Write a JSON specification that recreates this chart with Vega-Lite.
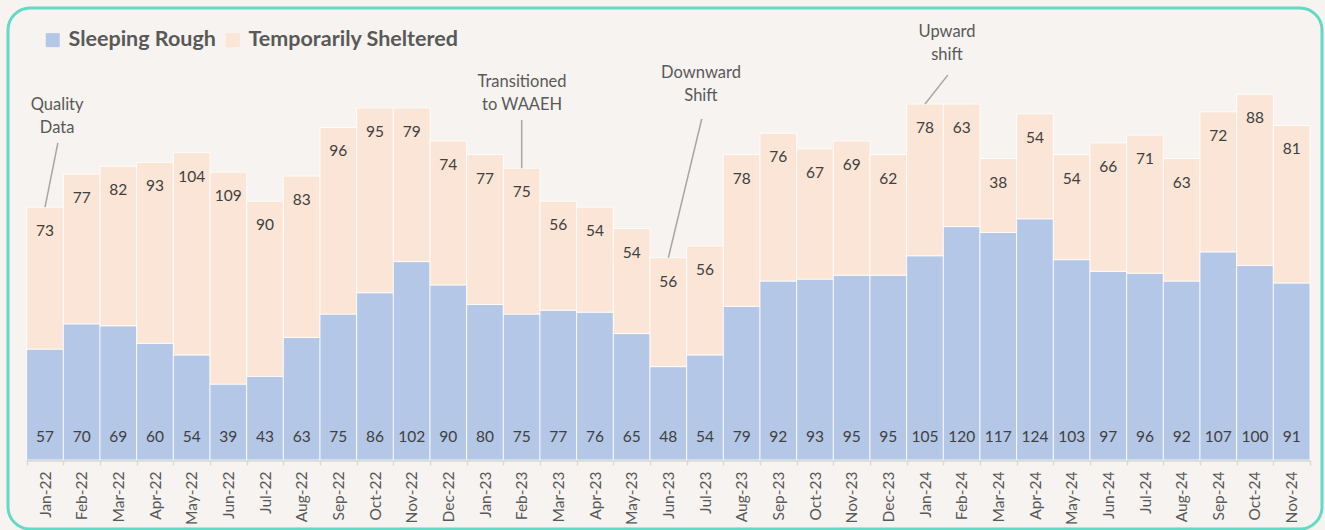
{
  "$schema": "https://vega.github.io/schema/vega-lite/v6.json",
  "width": 1314,
  "height": 521,
  "autosize": {"type": "none"},
  "padding": {"left": 8, "top": 8, "right": 3, "bottom": 1},
  "background": "#F6F3F0",
  "config": {
    "view": {"stroke": "#62DAC5", "strokeWidth": 3, "cornerRadius": 22, "fill": "#F6F3F0"},
    "font": "Lato",
    "legend": {
      "orient": "none",
      "legendX": 34,
      "legendY": 21,
      "direction": "horizontal",
      "padding": 0,
      "symbolType": "square",
      "symbolSize": 196,
      "symbolStrokeWidth": 0,
      "labelFontSize": 21.5,
      "labelFontWeight": "bold",
      "labelColor": "#595959",
      "labelFont": "Lato",
      "labelOffset": 5,
      "columnPadding": 6,
      "labelLimit": 400
    }
  },
  "datasets": {
    "counts": [
      {"month": "Jan-22", "Sleeping Rough": 57, "Temporarily Sheltered": 73},
      {"month": "Feb-22", "Sleeping Rough": 70, "Temporarily Sheltered": 77},
      {"month": "Mar-22", "Sleeping Rough": 69, "Temporarily Sheltered": 82},
      {"month": "Apr-22", "Sleeping Rough": 60, "Temporarily Sheltered": 93},
      {"month": "May-22", "Sleeping Rough": 54, "Temporarily Sheltered": 104},
      {"month": "Jun-22", "Sleeping Rough": 39, "Temporarily Sheltered": 109},
      {"month": "Jul-22", "Sleeping Rough": 43, "Temporarily Sheltered": 90},
      {"month": "Aug-22", "Sleeping Rough": 63, "Temporarily Sheltered": 83},
      {"month": "Sep-22", "Sleeping Rough": 75, "Temporarily Sheltered": 96},
      {"month": "Oct-22", "Sleeping Rough": 86, "Temporarily Sheltered": 95},
      {"month": "Nov-22", "Sleeping Rough": 102, "Temporarily Sheltered": 79},
      {"month": "Dec-22", "Sleeping Rough": 90, "Temporarily Sheltered": 74},
      {"month": "Jan-23", "Sleeping Rough": 80, "Temporarily Sheltered": 77},
      {"month": "Feb-23", "Sleeping Rough": 75, "Temporarily Sheltered": 75},
      {"month": "Mar-23", "Sleeping Rough": 77, "Temporarily Sheltered": 56},
      {"month": "Apr-23", "Sleeping Rough": 76, "Temporarily Sheltered": 54},
      {"month": "May-23", "Sleeping Rough": 65, "Temporarily Sheltered": 54},
      {"month": "Jun-23", "Sleeping Rough": 48, "Temporarily Sheltered": 56},
      {"month": "Jul-23", "Sleeping Rough": 54, "Temporarily Sheltered": 56},
      {"month": "Aug-23", "Sleeping Rough": 79, "Temporarily Sheltered": 78},
      {"month": "Sep-23", "Sleeping Rough": 92, "Temporarily Sheltered": 76},
      {"month": "Oct-23", "Sleeping Rough": 93, "Temporarily Sheltered": 67},
      {"month": "Nov-23", "Sleeping Rough": 95, "Temporarily Sheltered": 69},
      {"month": "Dec-23", "Sleeping Rough": 95, "Temporarily Sheltered": 62},
      {"month": "Jan-24", "Sleeping Rough": 105, "Temporarily Sheltered": 78},
      {"month": "Feb-24", "Sleeping Rough": 120, "Temporarily Sheltered": 63},
      {"month": "Mar-24", "Sleeping Rough": 117, "Temporarily Sheltered": 38},
      {"month": "Apr-24", "Sleeping Rough": 124, "Temporarily Sheltered": 54},
      {"month": "May-24", "Sleeping Rough": 103, "Temporarily Sheltered": 54},
      {"month": "Jun-24", "Sleeping Rough": 97, "Temporarily Sheltered": 66},
      {"month": "Jul-24", "Sleeping Rough": 96, "Temporarily Sheltered": 71},
      {"month": "Aug-24", "Sleeping Rough": 92, "Temporarily Sheltered": 63},
      {"month": "Sep-24", "Sleeping Rough": 107, "Temporarily Sheltered": 72},
      {"month": "Oct-24", "Sleeping Rough": 100, "Temporarily Sheltered": 88},
      {"month": "Nov-24", "Sleeping Rough": 91, "Temporarily Sheltered": 81}
    ],
    "notes": [
      {"label": "Quality|Data", "pos": 0.83, "yv": 182.5},
      {"label": "Transitioned|to WAAEH", "pos": 13.51, "yv": 194.3},
      {"label": "Downward|Shift", "pos": 18.39, "yv": 199.0},
      {"label": "Upward|shift", "pos": 25.1, "yv": 220.1}
    ],
    "leaders": [
      {"p0": 0.85, "y0": 163, "p1": 0.5, "y1": 130},
      {"p0": 13.5, "y0": 174.8, "p1": 13.5, "y1": 150},
      {"p0": 18.41, "y0": 175.3, "p1": 17.5, "y1": 104},
      {"p0": 25.12, "y0": 197.9, "p1": 24.5, "y1": 183}
    ]
  },
  "layer": [
    {
      "data": {"name": "counts"},
      "transform": [
        {"fold": ["Sleeping Rough", "Temporarily Sheltered"], "as": ["series", "value"]},
        {"stack": "value", "groupby": ["month"], "sort": [{"field": "series", "order": "ascending"}], "as": ["v0", "v1"]}
      ],
      "layer": [
        {
          "mark": {"type": "bar", "stroke": "#FFFFFF", "strokeWidth": 1, "strokeOpacity": 0.8},
          "encoding": {
            "x": {
              "field": "month", "type": "nominal", "sort": null,
              "scale": {"paddingInner": 0, "paddingOuter": 0.4186, "align": 0.609},
              "axis": {
                "title": null, "orient": "bottom", "offset": -69, "domain": false,
                "tickBand": "extent", "tickSize": 5, "tickColor": "#D9D9D9", "tickWidth": 1.5,
                "labelAngle": -90, "labelFontSize": 15.5, "labelColor": "#595959",
                "labelFont": "Lato", "labelPadding": 6
              }
            },
            "y": {"field": "v1", "type": "quantitative", "scale": {"domain": [-35.5, 232.4], "nice": false, "zero": false}, "axis": null},
            "y2": {"field": "v0"},
            "color": {
              "field": "series", "type": "nominal",
              "scale": {"domain": ["Sleeping Rough", "Temporarily Sheltered"], "range": ["#B4C7E7", "#FBE5D6"]},
              "legend": {"title": null}
            }
          }
        },
        {
          "mark": {"type": "bar", "color": "#D9D9D9"},
          "encoding": {
            "x": {"field": "month", "type": "nominal", "sort": null},
            "y": {"datum": 0, "type": "quantitative", "scale": {"domain": [-35.5, 232.4], "nice": false, "zero": false}},
            "y2": {"datum": -0.75}
          }
        },
        {
          "transform": [{"filter": "datum.series === 'Sleeping Rough'"}],
          "mark": {"type": "text", "fontSize": 15.5, "color": "#404040", "baseline": "middle", "dy": -23},
          "encoding": {
            "x": {"field": "month", "type": "nominal", "sort": null},
            "y": {"datum": 0, "type": "quantitative", "scale": {"domain": [-35.5, 232.4], "nice": false, "zero": false}},
            "text": {"field": "value", "type": "quantitative"}
          }
        },
        {
          "transform": [{"filter": "datum.series === 'Temporarily Sheltered'"}],
          "mark": {"type": "text", "fontSize": 15.5, "color": "#404040", "baseline": "middle", "dy": 24},
          "encoding": {
            "x": {"field": "month", "type": "nominal", "sort": null},
            "y": {"field": "v1", "type": "quantitative", "scale": {"domain": [-35.5, 232.4], "nice": false, "zero": false}},
            "text": {"field": "value", "type": "quantitative"}
          }
        }
      ]
    },
    {
      "data": {"name": "leaders"},
      "mark": {"type": "rule", "color": "#A6A6A6", "strokeWidth": 1.5},
      "encoding": {
        "x": {"field": "p0", "type": "quantitative", "scale": {"domain": [-0.51, 35.327], "nice": false, "zero": false}, "axis": null},
        "x2": {"field": "p1"},
        "y": {"field": "y0", "type": "quantitative", "scale": {"domain": [-35.5, 232.4], "nice": false, "zero": false}},
        "y2": {"field": "y1"}
      }
    },
    {
      "data": {"name": "notes"},
      "mark": {"type": "text", "fontSize": 16.5, "color": "#595959", "lineBreak": "|", "lineHeight": 23, "baseline": "middle", "align": "center"},
      "encoding": {
        "x": {"field": "pos", "type": "quantitative", "scale": {"domain": [-0.51, 35.327], "nice": false, "zero": false}, "axis": null},
        "y": {"field": "yv", "type": "quantitative", "scale": {"domain": [-35.5, 232.4], "nice": false, "zero": false}},
        "text": {"field": "label", "type": "nominal"}
      }
    }
  ],
  "resolve": {"scale": {"x": "independent"}, "axis": {"x": "independent"}}
}
